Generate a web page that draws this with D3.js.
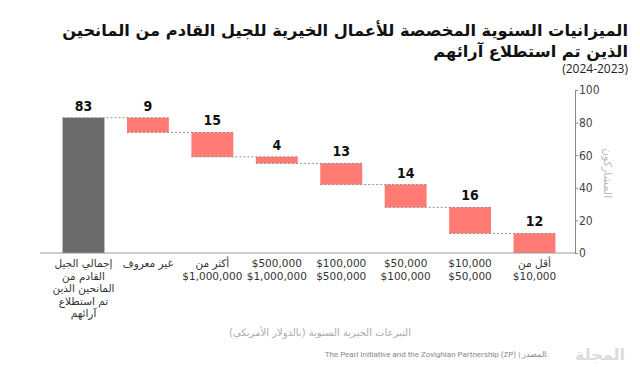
<!DOCTYPE html>
<html>
<head>
<meta charset="utf-8">
<script src="https://cdn.jsdelivr.net/npm/d3@7"></script>
<style>
	body { margin: 0; background: #fff; }
	svg { display: block; }
</style>
</head>
<body>
<svg id="chart" width="640" height="367"></svg>
<script>
// data
var categories = [
	["إجمالي الجيل", "القادم من", "المانحين الذين", "تم استطلاع", "آرائهم"],
	["غير معروف"],
	["أكثر من", "$1,000,000"],
	["$500,000", "$1,000,000"],
	["$100,000", "$500,000"],
	["$50,000", "$100,000"],
	["$10,000", "$50,000"],
	["أقل من", "$10,000"]
];
var values = [83, 9, 15, 4, 13, 14, 16, 12];
var yTicks = [0, 20, 40, 60, 80, 100];

var titleLines = ["الميزانيات السنوية المخصصة للأعمال الخيرية للجيل القادم من المانحين", "الذين تم استطلاع آرائهم"];
var subTitle = "(2024-2023)";
var yLabel = "المشاركون";
var xLabel = "التبرعات الخيرية السنوية (بالدولار الأمريكي)";
var source = "The Pearl Initiative and the Zovighian Partnership (ZP) | المصدر:";

var arFont = "'DejaVu Sans', sans-serif";
var numFont = "'Liberation Sans Narrow', 'DejaVu Sans Condensed', sans-serif";

var svg = d3.select("#chart");

// running totals for the waterfall
var bars = [];
var running = values[0];
for (var i = 0; i < values.length; i++) {
	if (i == 0) {
		bars.push({i: i, lo: 0, hi: values[0], v: values[0], total: true});
	} else {
		bars.push({i: i, lo: running - values[i], hi: running, v: values[i], total: false});
		running -= values[i];
	}
}

var x = d3.scaleBand()
	.domain(d3.range(values.length))
	.range([40, 578])
	.padding(0.35);

var y = d3.scaleLinear()
	.domain([0, 100])
	.range([253, 90]);

// title, shrunk so the first line spans about x 60..628 like the original
var titles = svg.selectAll(".title")
	.data(titleLines)
	.enter()
	.append("text")
		.attr("class", "title")
		.attr("x", 628)
		.attr("y", (d, k) => 36 + k * 21)
		.attr("text-anchor", "end")
		.style("font-family", arFont)
		.style("font-size", "19px")
		.style("font-weight", "bold")
		.attr("fill", "#111")
		.text(d => d);
var w0 = titles.node().getComputedTextLength();
var fs = Math.min(19, 19 * 566 / w0);
titles.style("font-size", fs + "px");

svg.append("text")
	.attr("x", 628)
	.attr("y", 73)
	.attr("text-anchor", "end")
	.style("font-family", "'Open Sans', sans-serif")
	.style("font-size", "12px")
	.attr("fill", "#222")
	.text(subTitle);

// bars
svg.selectAll(".bar")
	.data(bars)
	.enter()
	.append("rect")
		.attr("class", "bar")
		.attr("x", d => x(d.i))
		.attr("y", d => y(d.hi))
		.attr("width", x.bandwidth())
		.attr("height", d => y(d.lo) - y(d.hi))
		.attr("fill", d => d.total ? "#6b6b6b" : "#ff7b74");

// connectors
var conn = bars.slice(0, -1).map(function(d) {
	return {x1: x(d.i), x2: x(d.i + 1) + x.bandwidth(), level: d.total ? d.hi : d.lo};
});
svg.selectAll(".conn")
	.data(conn)
	.enter()
	.append("line")
		.attr("class", "conn")
		.attr("x1", d => d.x1)
		.attr("x2", d => d.x2)
		.attr("y1", d => y(d.level))
		.attr("y2", d => y(d.level))
		.attr("stroke", "#777")
		.attr("stroke-width", 0.8)
		.attr("stroke-dasharray", "2,2");

// value labels
svg.selectAll(".val")
	.data(bars)
	.enter()
	.append("text")
		.attr("class", "val")
		.attr("x", d => x(d.i) + x.bandwidth() / 2)
		.attr("y", d => y(d.hi) - 7)
		.attr("text-anchor", "middle")
		.style("font-family", numFont)
		.style("font-size", "14px")
		.style("font-weight", "bold")
		.attr("fill", "#111")
		.text(d => d.v);

// baseline
svg.append("line")
	.attr("x1", 40)
	.attr("x2", 575)
	.attr("y1", y(0))
	.attr("y2", y(0))
	.attr("stroke", "#999")
	.attr("stroke-width", 1);

// y axis on the right
var yAxis = svg.append("g")
	.attr("transform", "translate(575,0)")
	.call(d3.axisRight(y).tickValues(yTicks).tickSize(3).tickPadding(1));
yAxis.select(".domain").attr("stroke", "#888");
yAxis.selectAll(".tick line").attr("stroke", "#888");
yAxis.selectAll("text")
	.style("font-family", numFont)
	.style("font-size", "12px")
	.attr("fill", "#444");

svg.append("text")
	.attr("transform", "translate(604," + y(49) + ") rotate(90)")
	.attr("text-anchor", "middle")
	.style("font-family", arFont)
	.style("font-size", "11px")
	.attr("fill", "#bbb")
	.text(yLabel);

// category labels
var cat = svg.selectAll(".cat")
	.data(categories)
	.enter()
	.append("text")
		.attr("class", "cat")
		.attr("text-anchor", "middle")
		.style("font-family", arFont)
		.style("font-size", "10.5px")
		.attr("fill", "#333");
cat.selectAll("tspan")
	.data((d, k) => d.map(s => ({s: s, k: k})))
	.enter()
	.append("tspan")
		.attr("x", d => x(d.k) + x.bandwidth() / 2)
		.attr("y", (d, j) => 267 + j * 12.5)
		.text(d => d.s);

// x label
svg.append("text")
	.attr("x", 320)
	.attr("y", 336)
	.attr("text-anchor", "middle")
	.style("font-family", arFont)
	.style("font-size", "10px")
	.attr("fill", "#aaa")
	.text(xLabel);

// source + logo
svg.append("text")
	.attr("x", 548)
	.attr("y", 357)
	.attr("text-anchor", "end")
	.style("font-family", "'Roboto', sans-serif")
	.style("font-size", "8px")
	.attr("fill", "#888")
	.text(source);

svg.append("text")
	.attr("x", 625)
	.attr("y", 360)
	.attr("text-anchor", "end")
	.style("font-family", arFont)
	.style("font-size", "16px")
	.style("font-weight", "bold")
	.attr("fill", "#dcdcdc")
	.text("المجلة");
</script>
</body>
</html>
